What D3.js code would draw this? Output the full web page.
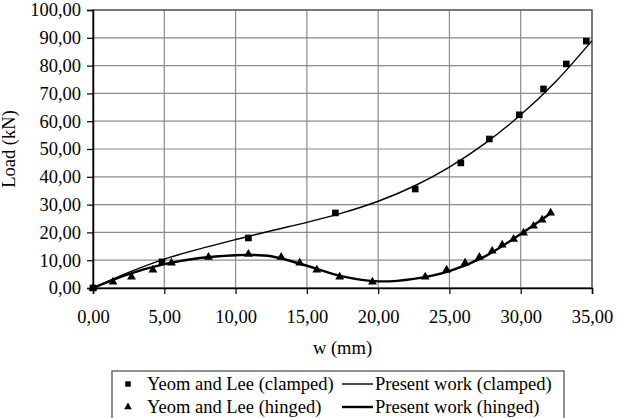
<!DOCTYPE html>
<html>
<head>
<meta charset="utf-8">
<script src="https://cdn.jsdelivr.net/npm/d3@7"></script>
<style>
    body { margin: 0; background: #fff; }
    svg { display: block; }
    text { font-family: 'Liberation Serif', 'Times New Roman', serif; fill: #000; }
</style>
</head>
<body>
<div id="chart"></div>
<script>
// Yeom and Lee, clamped (squares)
const clampedW = [0, 4.84, 10.9, 17.0, 22.6, 25.8, 27.8, 29.9, 31.6, 33.2, 34.6]
const clampedLoad = [0, 9.4, 18.0, 27.0, 35.6, 45.0, 53.6, 62.3, 71.6, 80.6, 88.8]

// Yeom and Lee, hinged (triangles)
const hingedW = [0, 1.4, 2.7, 4.2, 5.5, 8.1, 10.9, 13.2, 14.5, 15.7, 17.3, 19.6, 23.3, 24.8, 26.1, 27.1, 28.0, 28.7, 29.5, 30.2, 30.9, 31.5, 32.1]
const hingedLoad = [0, 2.2, 4.0, 6.5, 9.0, 11.1, 12.2, 11.1, 9.0, 6.5, 4.0, 2.2, 4.0, 6.5, 9.0, 11.1, 13.3, 15.5, 17.6, 19.8, 22.3, 24.5, 27.0]

// Present work curves
const presClampedW = [0, 2.5, 5, 7.5, 10, 12.5, 15, 17.5, 20, 22.5, 25, 27.5, 30, 32.5, 35]
const presClampedLoad = [0, 5.6, 10.4, 14.1, 17.4, 20.6, 23.6, 27.0, 31.2, 36.6, 43.5, 52.0, 62.3, 74.5, 89.0]
const presHingedW = [0, 2.5, 5, 7.5, 10, 11, 12.5, 15, 17.5, 20, 22.5, 25, 27.5, 30, 32]
const presHingedLoad = [0, 5.0, 8.6, 10.8, 11.8, 11.9, 11.4, 8.0, 4.2, 2.4, 3.3, 6.1, 11.4, 19.4, 26.5]

const xTicks = [0, 5, 10, 15, 20, 25, 30, 35]
const yTicks = [0, 10, 20, 30, 40, 50, 60, 70, 80, 90, 100]

const legendItems = ['Yeom and Lee (clamped)', 'Present work (clamped)', 'Yeom and Lee (hinged)', 'Present work (hinged)']

const width = 617
const height = 418
const margin = { left: 93, right: 25, top: 10, bottom: 130 }
const fmt = d => d3.format('.2f')(d).replace('.', ',')
const serif = "'Liberation Serif', 'Times New Roman', Times, serif"

const svg = d3.select('#chart')
    .append('svg')
    .attr('width', width)
    .attr('height', height)

const x = d3.scaleLinear()
    .domain([0, 35])
    .range([margin.left, width - margin.right])

const y = d3.scaleLinear()
    .domain([0, 100])
    .range([height - margin.bottom, margin.top])

// grid
svg.append('g')
    .selectAll('line')
    .data(yTicks)
    .enter()
    .append('line')
    .attr('x1', x(0))
    .attr('x2', x(35))
    .attr('y1', d => y(d))
    .attr('y2', d => y(d))
    .attr('stroke', '#8a8a8a')
    .attr('stroke-width', 1.2)

svg.append('g')
    .selectAll('line')
    .data(xTicks)
    .enter()
    .append('line')
    .attr('x1', d => x(d))
    .attr('x2', d => x(d))
    .attr('y1', y(0))
    .attr('y2', y(100))
    .attr('stroke', '#8a8a8a')
    .attr('stroke-width', 1.2)

// frame
svg.append('rect')
    .attr('x', x(0))
    .attr('y', y(100))
    .attr('width', x(35) - x(0))
    .attr('height', y(0) - y(100))
    .attr('fill', 'none')
    .attr('stroke', '#555')
    .attr('stroke-width', 1.3)

const xAxis = d3.axisBottom(x)
    .tickValues(xTicks)
    .tickFormat(fmt)
    .tickSize(6)
    .tickPadding(16)

const yAxis = d3.axisLeft(y)
    .tickValues(yTicks)
    .tickFormat(fmt)
    .tickSize(6)
    .tickPadding(6)

const gx = svg.append('g')
    .attr('transform', `translate(0, ${y(0)})`)
    .call(xAxis)
const gy = svg.append('g')
    .attr('transform', `translate(${x(0)}, 0)`)
    .call(yAxis)

for (const g of [gx, gy]) {
    g.attr('font-family', serif).attr('font-size', 18.5)
    g.select('.domain').attr('stroke', '#000').attr('stroke-width', 1.5)
    g.selectAll('.tick line').attr('stroke', '#000').attr('stroke-width', 1.2)
    g.selectAll('.tick text')
        .style('font-family', serif)
        .style('font-size', '18.5px')
        .attr('fill', '#000')
}

// axis titles
svg.append('text')
    .attr('x', x(17.5))
    .attr('y', 354)
    .attr('text-anchor', 'middle')
    .style('font-size', '18.5px')
    .text('w (mm)')

svg.append('text')
    .attr('transform', `translate(15, ${y(50)}) rotate(-90)`)
    .attr('text-anchor', 'middle')
    .style('font-size', '18.5px')
    .text('Load (kN)')

// curves
const line = d3.line()
    .x(d => x(d[0]))
    .y(d => y(d[1]))
    .curve(d3.curveCatmullRom)

svg.append('path')
    .datum(d3.zip(presClampedW, presClampedLoad))
    .attr('d', line)
    .attr('fill', 'none')
    .attr('stroke', '#000')
    .attr('stroke-width', 1.4)

svg.append('path')
    .datum(d3.zip(presHingedW, presHingedLoad))
    .attr('d', line)
    .attr('fill', 'none')
    .attr('stroke', '#000')
    .attr('stroke-width', 2.4)

// markers
const square = d3.symbol().type(d3.symbolSquare).size(44)
const triangle = d3.symbol().type(d3.symbolTriangle).size(34)

svg.append('g')
    .selectAll('path')
    .data(d3.zip(clampedW, clampedLoad))
    .enter()
    .append('path')
    .attr('d', square)
    .attr('transform', d => `translate(${x(d[0])}, ${y(d[1])})`)
    .attr('fill', '#000')

svg.append('g')
    .selectAll('path')
    .data(d3.zip(hingedW, hingedLoad))
    .enter()
    .append('path')
    .attr('d', triangle)
    .attr('transform', d => `translate(${x(d[0])}, ${y(d[1])})`)
    .attr('fill', '#000')

// legend
const legend = svg.append('g')
legend.append('rect')
    .attr('x', 112)
    .attr('y', 371)
    .attr('width', 452)
    .attr('height', 62)
    .attr('fill', 'none')
    .attr('stroke', '#555')
    .attr('stroke-width', 1.3)

const rows = [390, 413]
legend.append('path')
    .attr('d', square.size(30))
    .attr('transform', `translate(128, ${rows[0] - 6})`)
legend.append('path')
    .attr('d', triangle.size(26))
    .attr('transform', `translate(128, ${rows[1] - 6})`)
legend.append('line')
    .attr('x1', 342).attr('x2', 373)
    .attr('y1', rows[0] - 6).attr('y2', rows[0] - 6)
    .attr('stroke', '#000').attr('stroke-width', 1.4)
legend.append('line')
    .attr('x1', 342).attr('x2', 373)
    .attr('y1', rows[1] - 6).attr('y2', rows[1] - 6)
    .attr('stroke', '#000').attr('stroke-width', 2.4)

legend.selectAll('text')
    .data(legendItems)
    .enter()
    .append('text')
    .attr('x', (d, i) => i % 2 === 0 ? 147 : 375)
    .attr('y', (d, i) => rows[Math.floor(i / 2)])
    .style('font-family', serif)
    .style('font-size', '18.5px')
    .text(d => d)
</script>
</body>
</html>
